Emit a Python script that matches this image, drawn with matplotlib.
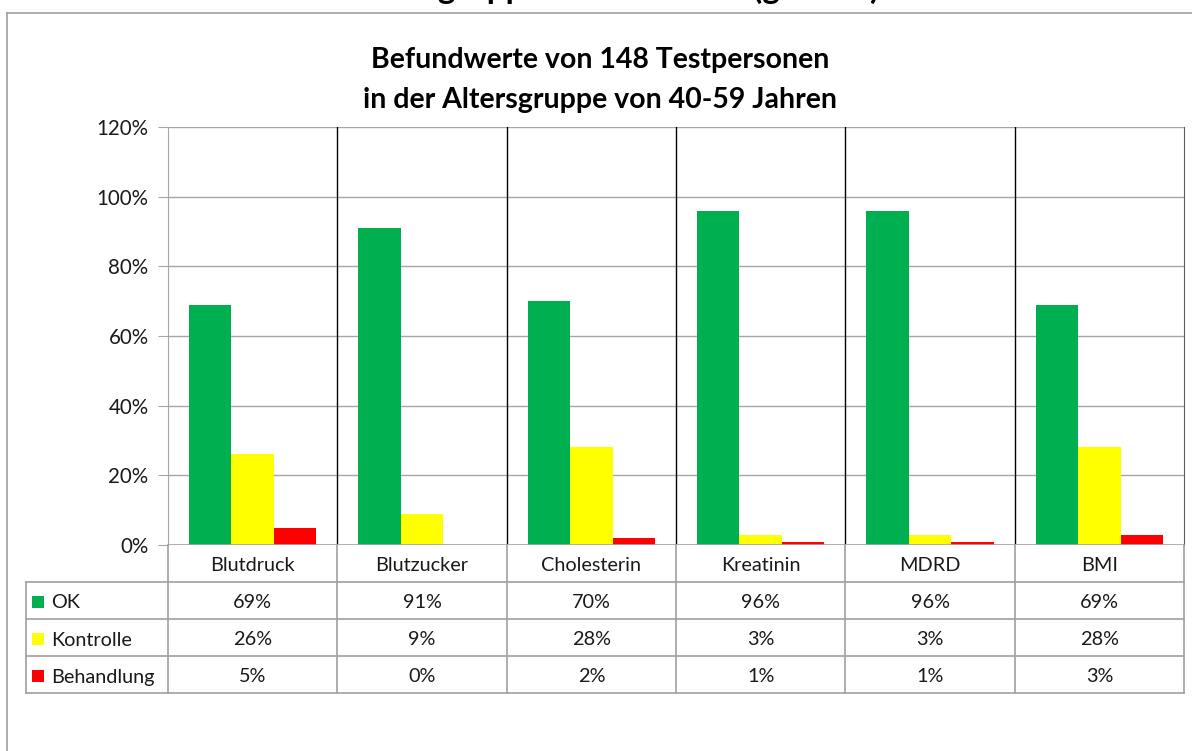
import matplotlib
matplotlib.use("Agg")
import matplotlib.pyplot as plt
from matplotlib.patches import Rectangle
from matplotlib.lines import Line2D
import numpy as np

# ---- data ----
categories = ["Blutdruck", "Blutzucker", "Cholesterin", "Kreatinin", "MDRD", "BMI"]
series_names = ["OK", "Kontrolle", "Behandlung"]
ok_values = [69, 91, 70, 96, 96, 69]
kontrolle_values = [26, 9, 28, 3, 3, 28]
behandlung_values = [5, 0, 2, 1, 1, 3]
series_values = [ok_values, kontrolle_values, behandlung_values]
series_colors = ["#00B050", "#FFFF00", "#FF0000"]
y_ticks = [0, 20, 40, 60, 80, 100, 120]
title = "Befundwerte von 148 Testpersonen\nin der Altersgruppe von 40-59 Jahren"
top_title = "Altersgruppe 40 - 59 Jahre (gesamt)"

plt.rcParams['font.family'] = ['Lato', 'DejaVu Sans']

W, H = 1192, 751
fig = plt.figure(figsize=(W / 100, H / 100), dpi=100)

def fx(px):
    return px / W

def fy(py):
    return 1 - py / H

# layout in pixels
plot_l, plot_r, plot_t, plot_b = 168, 1184, 127, 545
tab_l, tab_b = 26, 693
grid_c = "#a6a6a6"
tab_c = "#a0a0a0"
fs = 14.3
txt_c = "#1a1a1a"

# outer chart border (extends beyond right/bottom edge)
fig.add_artist(Line2D([fx(7), fx(7)], [fy(13), fy(760)], color="#a0a0a0", lw=1.2))
fig.add_artist(Line2D([fx(7), fx(1200)], [fy(13), fy(13)], color="#a0a0a0", lw=1.2))

# cropped top title (only descenders visible, as in the reference)
fig.text(fx(614), fy(-1), top_title, ha="center", va="baseline",
         fontsize=24, fontweight="bold", color="black")

ax = fig.add_axes([fx(plot_l), fy(plot_b), fx(plot_r) - fx(plot_l), fy(plot_t) - fy(plot_b)])
n = len(categories)
x = np.arange(n)
bw = 0.251
for i, (vals, col) in enumerate(zip(series_values, series_colors)):
    ax.bar(x + (i - 1) * bw, vals, width=bw, color=col, zorder=3, linewidth=0)

ax.set_xlim(-0.5, n - 0.5)
ax.set_ylim(0, 120)
ax.set_yticks(y_ticks)
ax.set_yticklabels([f"{t}%" for t in y_ticks], fontsize=14.8, color=txt_c)
ax.set_xticks([])
ax.yaxis.grid(True, color=grid_c, lw=1, zorder=0)
ax.tick_params(axis="y", length=7, color=grid_c, pad=7)
for s in ["top", "bottom"]:
    ax.spines[s].set_visible(False)
ax.spines["left"].set_color(grid_c)
ax.spines["right"].set_color("#606060")
for b in np.arange(0.5, n - 0.5, 1.0):
    ax.axvline(b, color="black", lw=1, zorder=2)
ax.axhline(0, color=grid_c, lw=1.2, zorder=4)

# title
t1, t2 = title.split("\n")
fig.text(fx(600), fy(60), t1, ha="center", va="center", fontsize=20.5, fontweight="bold")
fig.text(fx(600), fy(100), t2, ha="center", va="center", fontsize=20.5, fontweight="bold")

# ---- data table ----
unit = (plot_r - plot_l) / n
tx0 = -0.5 - (plot_l - tab_l) / unit
tab = fig.add_axes([fx(tab_l), fy(tab_b), fx(plot_r) - fx(tab_l), fy(plot_b) - fy(tab_b)])
tab.set_xlim(tx0, n - 0.5)
tab.set_ylim(4, 0)
tab.axis("off")
for r in [1, 2, 3, 4]:
    tab.plot([tx0, n - 0.5], [r, r], color=tab_c, lw=1.2, clip_on=False)
for c in range(n + 1):
    tab.plot([c - 0.5, c - 0.5], [0, 4], color=tab_c, lw=1.2, clip_on=False)
tab.plot([tx0, tx0], [1, 4], color=tab_c, lw=1.2, clip_on=False)

for j, cat in enumerate(categories):
    tab.text(j, 0.55, cat, ha="center", va="center", fontsize=fs, color=txt_c)
for i, (name, vals, col) in enumerate(zip(series_names, series_values, series_colors)):
    row = i + 1
    for j, v in enumerate(vals):
        tab.text(j, row + 0.55, f"{v}%", ha="center", va="center", fontsize=fs, color=txt_c)
    key_px = 12
    fig.add_artist(Rectangle((fx(32), fy(583 + i * 37 + 25)), fx(key_px), key_px / H,
                             color=col, lw=0))
    fig.text(fx(51), fy(583 + i * 37 + 20), name, ha="left", va="center",
             fontsize=fs, color=txt_c)

fig.savefig("out.png", dpi=100)
